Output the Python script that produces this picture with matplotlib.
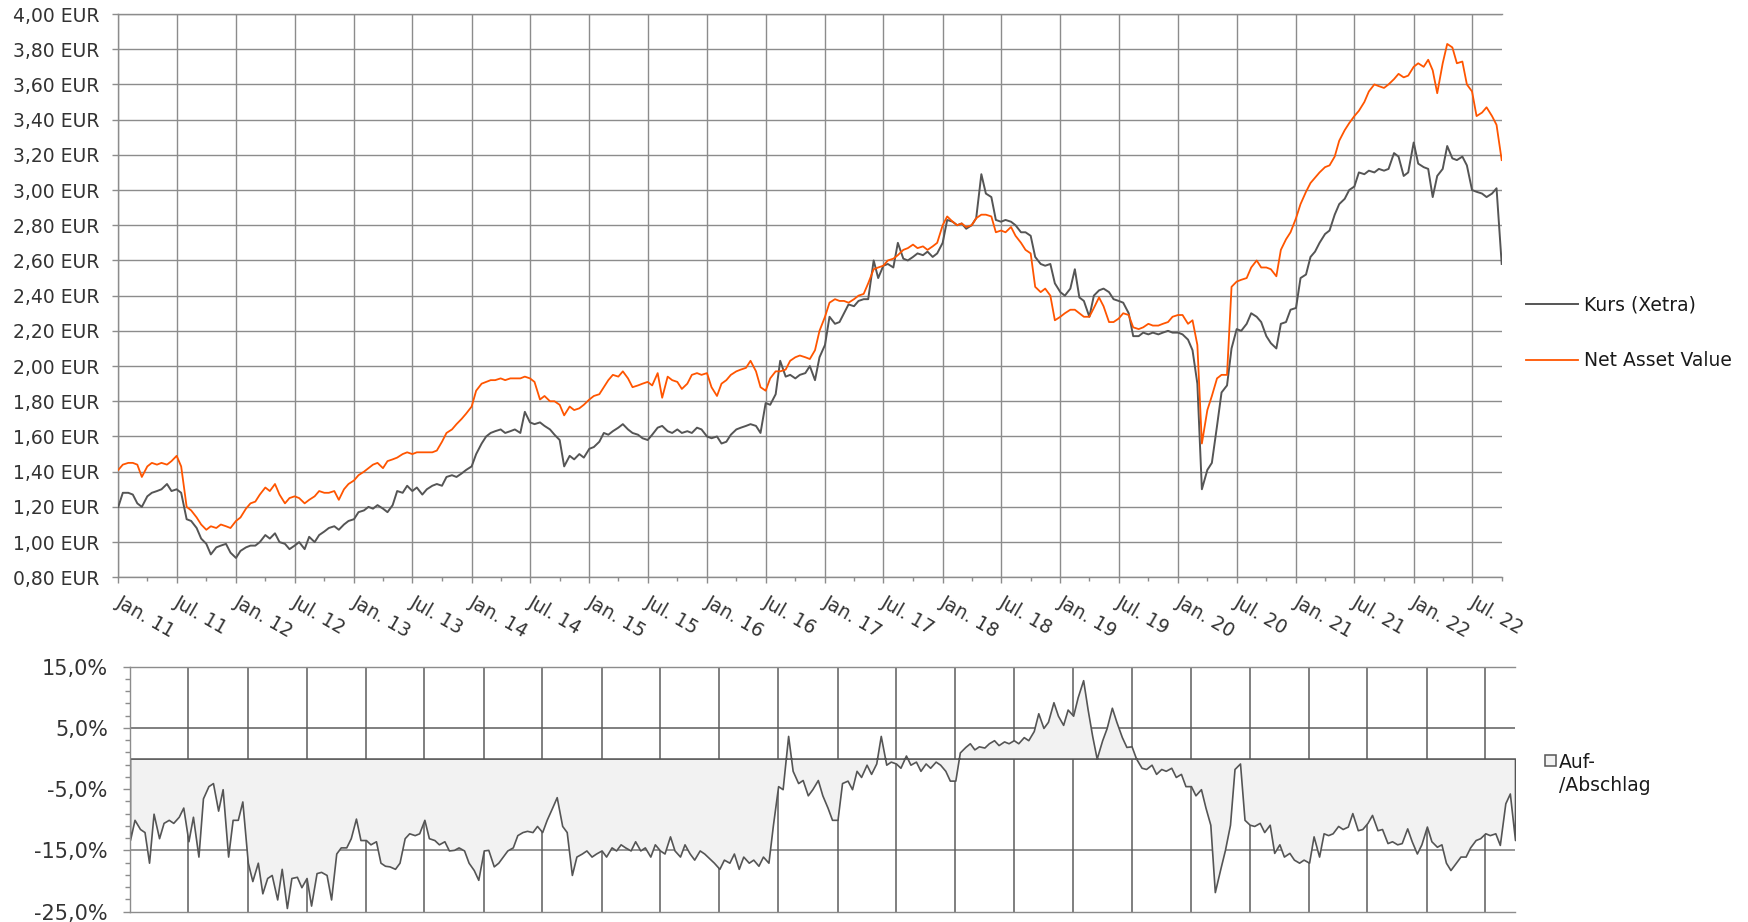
import matplotlib
matplotlib.use("Agg")
import matplotlib.pyplot as plt
from matplotlib.lines import Line2D
from matplotlib.patches import Rectangle
from matplotlib.transforms import ScaledTranslation
import pandas as pd

W, H = 1748, 922

# half-monthly observations, 1 Jan 2011 .. 1 Oct 2022
dates = pd.date_range("2011-01-01", periods=283, freq="SMS")

# Kurs (Xetra) in EUR
kurs = [
    1.20, 1.28, 1.28, 1.27, 1.22, 1.20, 1.26, 1.28, 1.29, 1.30, 1.33, 1.29,
    1.30, 1.28, 1.13, 1.12, 1.08, 1.02, 0.99, 0.93, 0.97, 0.98, 0.99, 0.94,
    0.91, 0.95, 0.97, 0.98, 0.98, 1.00, 1.04, 1.02, 1.05, 1.00, 0.99, 0.96,
    0.98, 1.00, 0.96, 1.03, 1.00, 1.04, 1.06, 1.08, 1.09, 1.07, 1.10, 1.12,
    1.13, 1.17, 1.18, 1.20, 1.19, 1.21, 1.19, 1.17, 1.21, 1.29, 1.28, 1.32,
    1.29, 1.31, 1.27, 1.30, 1.32, 1.33, 1.32, 1.37, 1.38, 1.37, 1.39, 1.41,
    1.43, 1.50, 1.56, 1.60, 1.62, 1.63, 1.64, 1.62, 1.63, 1.64, 1.62, 1.74,
    1.68, 1.67, 1.68, 1.66, 1.64, 1.61, 1.58, 1.43, 1.49, 1.47, 1.50, 1.48,
    1.53, 1.54, 1.57, 1.62, 1.61, 1.63, 1.65, 1.67, 1.64, 1.62, 1.61, 1.59,
    1.58, 1.61, 1.65, 1.66, 1.63, 1.62, 1.64, 1.62, 1.63, 1.62, 1.65, 1.64,
    1.60, 1.59, 1.60, 1.56, 1.57, 1.61, 1.64, 1.65, 1.66, 1.67, 1.66, 1.62,
    1.79, 1.78, 1.84, 2.03, 1.94, 1.95, 1.93, 1.95, 1.96, 2.00, 1.92, 2.05,
    2.12, 2.28, 2.24, 2.25, 2.30, 2.35, 2.34, 2.37, 2.38, 2.38, 2.60, 2.50,
    2.57, 2.58, 2.56, 2.70, 2.61, 2.60, 2.62, 2.64, 2.63, 2.65, 2.62, 2.64,
    2.70, 2.83, 2.82, 2.80, 2.81, 2.78, 2.80, 2.84, 3.09, 2.98, 2.96, 2.83,
    2.82, 2.83, 2.82, 2.80, 2.76, 2.76, 2.74, 2.62, 2.58, 2.57, 2.58, 2.47,
    2.42, 2.40, 2.44, 2.55, 2.39, 2.37, 2.28, 2.40, 2.43, 2.44, 2.42, 2.38,
    2.37, 2.36, 2.30, 2.17, 2.17, 2.19, 2.18, 2.19, 2.18, 2.19, 2.20, 2.19,
    2.19, 2.18, 2.15, 2.09, 1.90, 1.30, 1.41, 1.45, 1.66, 1.85, 1.89, 2.10,
    2.21, 2.20, 2.24, 2.30, 2.28, 2.25, 2.17, 2.13, 2.10, 2.24, 2.25, 2.32,
    2.33, 2.50, 2.52, 2.62, 2.65, 2.70, 2.75, 2.77, 2.86, 2.92, 2.95, 3.00,
    3.02, 3.10, 3.09, 3.11, 3.10, 3.12, 3.11, 3.12, 3.21, 3.19, 3.08, 3.10,
    3.27, 3.15, 3.13, 3.12, 2.96, 3.08, 3.12, 3.25, 3.18, 3.17, 3.19, 3.14,
    3.00, 2.99, 2.98, 2.96, 2.98, 3.01, 2.58,
]

# Net Asset Value in EUR
nav = [
    1.41, 1.44, 1.45, 1.45, 1.44, 1.37, 1.43, 1.45, 1.44, 1.45, 1.44, 1.46,
    1.49, 1.43, 1.20, 1.18, 1.14, 1.10, 1.07, 1.09, 1.08, 1.10, 1.09, 1.08,
    1.12, 1.14, 1.19, 1.22, 1.23, 1.27, 1.31, 1.29, 1.33, 1.27, 1.22, 1.25,
    1.26, 1.25, 1.22, 1.24, 1.26, 1.29, 1.28, 1.28, 1.29, 1.24, 1.30, 1.33,
    1.35, 1.38, 1.40, 1.42, 1.44, 1.45, 1.42, 1.46, 1.47, 1.48, 1.50, 1.51,
    1.50, 1.51, 1.51, 1.51, 1.51, 1.52, 1.57, 1.62, 1.64, 1.67, 1.70, 1.73,
    1.77, 1.86, 1.90, 1.91, 1.92, 1.92, 1.93, 1.92, 1.93, 1.93, 1.93, 1.94,
    1.93, 1.91, 1.81, 1.83, 1.80, 1.80, 1.78, 1.72, 1.77, 1.75, 1.76, 1.78,
    1.81, 1.83, 1.84, 1.88, 1.92, 1.95, 1.94, 1.97, 1.93, 1.88, 1.89, 1.90,
    1.91, 1.89, 1.96, 1.82, 1.94, 1.92, 1.91, 1.87, 1.90, 1.95, 1.96, 1.95,
    1.96, 1.88, 1.83, 1.90, 1.92, 1.95, 1.97, 1.98, 1.99, 2.03, 1.97, 1.88,
    1.86, 1.93, 1.97, 1.97, 1.98, 2.03, 2.05, 2.06, 2.05, 2.04, 2.09, 2.20,
    2.28, 2.36, 2.38, 2.37, 2.37, 2.36, 2.38, 2.40, 2.41, 2.47, 2.55, 2.56,
    2.57, 2.60, 2.61, 2.63, 2.66, 2.67, 2.69, 2.67, 2.68, 2.66, 2.68, 2.70,
    2.80, 2.85, 2.82, 2.80, 2.81, 2.79, 2.80, 2.84, 2.86, 2.86, 2.85, 2.76,
    2.77, 2.76, 2.79, 2.74, 2.70, 2.66, 2.64, 2.45, 2.42, 2.44, 2.40, 2.26,
    2.28, 2.30, 2.32, 2.32, 2.30, 2.28, 2.28, 2.33, 2.39, 2.34, 2.25, 2.25,
    2.27, 2.30, 2.29, 2.22, 2.21, 2.22, 2.24, 2.23, 2.23, 2.24, 2.25, 2.28,
    2.29, 2.29, 2.24, 2.26, 2.12, 1.56, 1.75, 1.83, 1.93, 1.95, 1.95, 2.45,
    2.48, 2.49, 2.50, 2.56, 2.60, 2.56, 2.56, 2.55, 2.51, 2.66, 2.72, 2.76,
    2.84, 2.92, 2.99, 3.04, 3.07, 3.10, 3.13, 3.14, 3.19, 3.28, 3.34, 3.38,
    3.42, 3.45, 3.50, 3.56, 3.60, 3.59, 3.58, 3.60, 3.63, 3.66, 3.64, 3.65,
    3.70, 3.72, 3.70, 3.74, 3.68, 3.55, 3.72, 3.83, 3.81, 3.72, 3.73, 3.60,
    3.56, 3.42, 3.44, 3.47, 3.42, 3.37, 3.17,
]

# Auf-/Abschlag in %
aufabschlag = [
    -13.3, -10.0, -11.5, -12.0, -17.0, -9.0, -13.0, -10.5, -10.0, -10.5, -9.5, -8.0,
    -13.5, -9.5, -16.0, -6.5, -4.5, -4.0, -8.5, -5.0, -16.0, -10.0, -10.0, -7.0,
    -17.0, -20.0, -17.0, -22.0, -19.5, -19.0, -23.0, -18.0, -24.4, -19.5, -19.3, -21.0,
    -19.5, -24.0, -18.7, -18.5, -19.0, -23.0, -15.5, -14.5, -14.5, -13.0, -9.8, -13.3,
    -13.3, -14.0, -13.5, -17.0, -17.5, -17.6, -18.0, -17.0, -13.0, -12.2, -12.5, -12.2,
    -10.0, -13.0, -13.3, -14.0, -13.5, -15.0, -14.9, -14.5, -15.0, -17.0, -18.2, -19.8,
    -15.0, -14.9, -17.6, -17.0, -16.0, -15.0, -14.5, -12.5, -12.0, -11.8, -12.0, -11.0,
    -12.0, -10.0, -8.0, -6.3, -11.0, -12.0, -19.0, -16.0, -15.5, -15.0, -16.0, -15.5,
    -15.0, -16.0, -14.5, -15.0, -14.0, -14.5, -15.0, -13.5, -15.0, -14.5, -16.0, -14.0,
    -15.0, -15.5, -12.7, -15.0, -16.0, -14.0, -15.5, -16.5, -15.0, -15.5, -16.3, -17.0,
    -18.0, -16.5, -17.0, -15.5, -18.0, -16.0, -17.0, -16.5, -17.5, -16.0, -17.0, -10.8,
    -4.5, -5.0, 3.7, -2.0, -4.0, -3.5, -6.0, -5.0, -3.5, -6.0, -8.0, -10.0,
    -10.0, -4.0, -3.6, -5.0, -2.0, -3.0, -1.0, -2.5, -0.8, 3.7, -1.0, -0.5,
    -0.8, -1.5, 0.5, -1.0, -0.5, -2.0, -0.8, -1.5, -0.5, -1.0, -2.0, -3.6,
    -3.6, 1.0, 1.9, 2.5, 1.5, 2.0, 1.8, 2.5, 3.0, 2.2, 2.8, 2.5,
    3.0, 2.5, 3.5, 3.0, 4.5, 7.4, 5.0, 6.0, 9.2, 7.0, 5.5, 8.0,
    7.0, 10.0, 12.8, 8.0, 3.7, 0.0, 3.0, 5.0, 8.3, 6.0, 3.5, 1.9,
    2.0, 0.0, -1.5, -1.7, -1.0, -2.5, -1.7, -2.0, -1.5, -3.0, -2.5, -4.5,
    -4.5, -6.0, -5.0, -8.0, -10.8, -21.8, -18.0, -15.0, -10.8, -1.7, -0.8, -10.0,
    -10.8, -11.0, -10.5, -12.0, -10.8, -15.4, -14.0, -16.0, -15.4, -16.5, -17.0, -16.5,
    -17.0, -12.7, -16.0, -12.2, -12.5, -12.2, -11.0, -11.5, -11.1, -8.9, -11.7, -11.5,
    -10.5, -9.2, -11.7, -11.5, -13.8, -13.5, -14.0, -13.8, -11.4, -13.5, -15.5, -14.0,
    -11.1, -13.5, -14.4, -14.0, -17.0, -18.2, -17.0, -16.0, -16.0, -14.5, -13.3, -13.0,
    -12.2, -12.5, -12.2, -14.1, -7.3, -5.7, -13.3,
]

eur_ticks = [0.8, 1.0, 1.2, 1.4, 1.6, 1.8, 2.0, 2.2, 2.4, 2.6, 2.8, 3.0, 3.2, 3.4, 3.6, 3.8, 4.0]
eur_labels = ["0,80 EUR", "1,00 EUR", "1,20 EUR", "1,40 EUR", "1,60 EUR", "1,80 EUR",
              "2,00 EUR", "2,20 EUR", "2,40 EUR", "2,60 EUR", "2,80 EUR", "3,00 EUR",
              "3,20 EUR", "3,40 EUR", "3,60 EUR", "3,80 EUR", "4,00 EUR"]
pct_ticks = [-25, -15, -5, 5, 15]
pct_labels = ["-25,0%", "-15,0%", "-5,0%", "5,0%", "15,0%"]
date_ticks = pd.date_range("2011-01-01", "2022-07-01", freq="6MS")
date_labels = ["Jan. 11", "Jul. 11", "Jan. 12", "Jul. 12", "Jan. 13", "Jul. 13",
               "Jan. 14", "Jul. 14", "Jan. 15", "Jul. 15", "Jan. 16", "Jul. 16",
               "Jan. 17", "Jul. 17", "Jan. 18", "Jul. 18", "Jan. 19", "Jul. 19",
               "Jan. 20", "Jul. 20", "Jan. 21", "Jul. 21", "Jan. 22", "Jul. 22"]
quarter_ticks = pd.date_range("2011-01-01", "2022-10-01", freq="3MS")

x_start = pd.Timestamp("2011-01-01")
x_end = pd.Timestamp("2022-10-01")

grid_top = "#8c8c8c"
grid_bot = "#5c5c5c"
dark = "#555555"
orange = "#ff5500"
txt = "#333333"


def fx(px):
    return px / W


def fy(py):
    return 1 - py / H


fig = plt.figure(figsize=(W / 100, H / 100), dpi=100)

# ---- upper chart: price and NAV
ax = fig.add_axes([fx(118.3), fy(577.3), (1501.7 - 118.3) / W, (577.3 - 14) / H])
ax.set_xlim(x_start, x_end)
ax.set_ylim(0.8, 4.0)
ax.set_yticks(eur_ticks)
ax.set_yticklabels(eur_labels)
ax.set_xticks(date_ticks)
ax.set_xticklabels(date_labels)
ax.set_xticks(quarter_ticks, minor=True)
ax.grid(True, which="major", color=grid_top, linewidth=1.0, zorder=0)
ax.set_axisbelow(True)
ax.spines["right"].set_visible(False)
for s in ["left", "bottom", "top"]:
    ax.spines[s].set_color(grid_top)
    ax.spines[s].set_linewidth(1.0)
ax.tick_params(axis="y", length=4, width=1.0, color=grid_top, pad=9.5,
               labelsize=13.5, labelcolor=txt)
ax.tick_params(axis="x", which="major", length=4.3, width=1.0, color=grid_top,
               pad=5, labelsize=13.5, labelcolor=txt)
ax.tick_params(axis="x", which="minor", length=2.8, width=1.0, color=grid_top)
shift = ScaledTranslation(4 / 100, -2 / 100, fig.dpi_scale_trans)
for lbl in ax.get_xticklabels():
    lbl.set_rotation(-30)
    lbl.set_ha("left")
    lbl.set_va("top")
    lbl.set_rotation_mode("anchor")
    lbl.set_transform(lbl.get_transform() + shift)

ax.plot(dates, kurs, color=dark, linewidth=1.4, zorder=3)
ax.plot(dates, nav, color=orange, linewidth=1.3, zorder=4)

# legend of upper chart
fig.add_artist(Line2D([fx(1526), fx(1578)], [fy(304), fy(304)], color=dark, linewidth=1.4))
fig.add_artist(Line2D([fx(1526), fx(1578)], [fy(360), fy(360)], color=orange, linewidth=1.3))
fig.text(fx(1584), fy(305), "Kurs (Xetra)", fontsize=13.5, color="#1a1a1a", va="center")
fig.text(fx(1584), fy(361), "Net Asset Value", fontsize=13.5, color="#1a1a1a", va="center")

# ---- lower chart: premium / discount
bx = fig.add_axes([fx(130), fy(911.7), 1385 / W, 245 / H])
bx.set_xlim(x_start, x_end)
bx.set_ylim(-25, 15)
bx.set_yticks(pct_ticks)
bx.set_yticklabels(pct_labels)
bx.set_yticks(range(-25, 16, 2), minor=True)
bx.set_xticks(date_ticks)
bx.tick_params(axis="x", length=0, labelbottom=False)
bx.tick_params(axis="y", which="major", length=5, width=1.0, color=grid_top, pad=11,
               labelsize=15, labelcolor=txt)
bx.tick_params(axis="y", which="minor", length=3.5, width=1.0, color=grid_top)
bx.xaxis.grid(True, color=grid_bot, linewidth=1.1, zorder=0)
for yv in [5, -15]:
    bx.axhline(yv, color=grid_bot if yv > 0 else "#7a7a7a", linewidth=1.1, zorder=0.5)
bx.set_axisbelow(True)
bx.spines["right"].set_visible(False)
for s in ["left", "bottom", "top"]:
    bx.spines[s].set_color(grid_top)
    bx.spines[s].set_linewidth(1.0)

bx.fill_between(dates, 0, aufabschlag, facecolor="#f2f2f2", edgecolor=dark,
                linewidth=1.2, zorder=2)

# legend of lower chart
fig.add_artist(Rectangle((fx(1544.5), fy(766)), 11 / W, 11 / H, transform=fig.transFigure,
                         facecolor="#f2f2f2", edgecolor=dark, linewidth=1.1))
fig.text(fx(1559), fy(768), "Auf-", fontsize=13.5, color="#1a1a1a", va="baseline")
fig.text(fx(1559), fy(791), "/Abschlag", fontsize=13.5, color="#1a1a1a", va="baseline")

fig.savefig("out.png", dpi=100)
